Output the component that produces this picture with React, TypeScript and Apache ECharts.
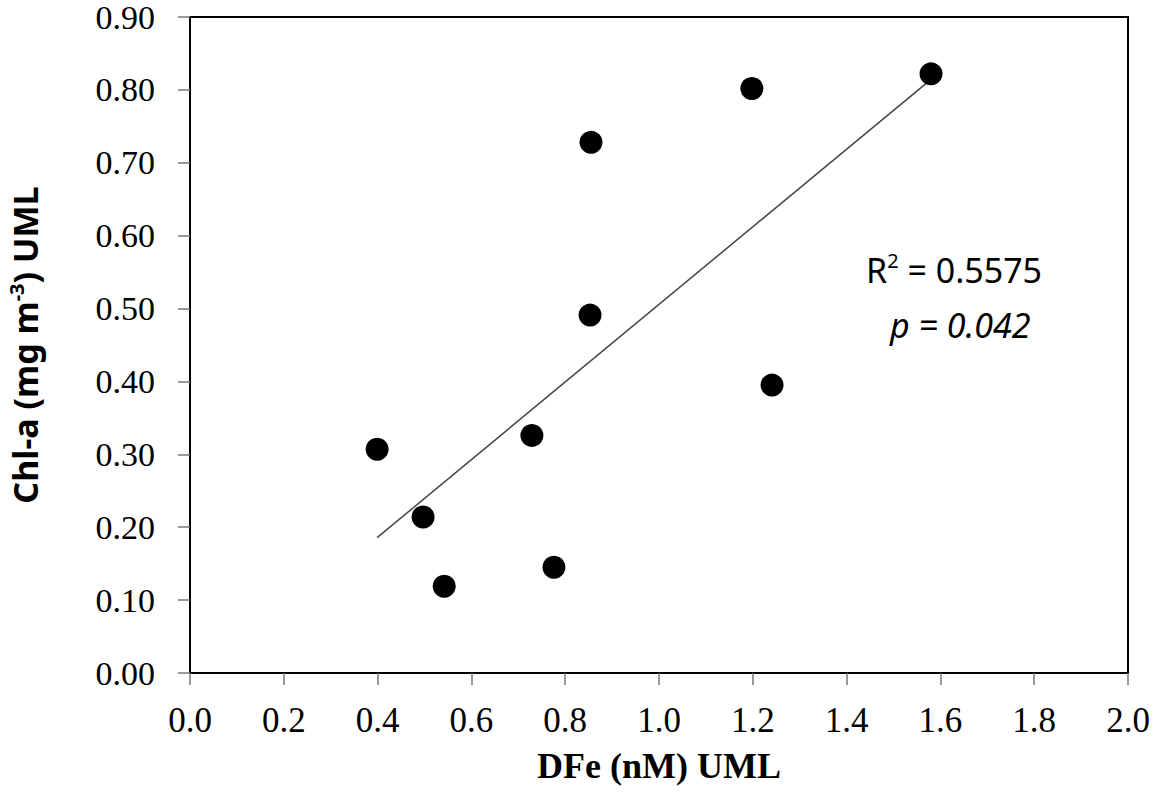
import React, { useEffect, useRef } from "react";
import * as echarts from "echarts";

const dfe = [0.399, 0.497, 0.542, 0.729, 0.776, 0.853, 0.855, 1.198, 1.241, 1.58];
const chla = [0.307, 0.214, 0.119, 0.326, 0.145, 0.491, 0.728, 0.802, 0.395, 0.822];
const r2Label = "0.5575";
const pLabel = "0.042";

function regression(xs: number[], ys: number[]) {
  const n = xs.length;
  const mx = xs.reduce((a, b) => a + b, 0) / n;
  const my = ys.reduce((a, b) => a + b, 0) / n;
  let sxy = 0;
  let sxx = 0;
  for (let i = 0; i < n; i++) {
    sxy += (xs[i] - mx) * (ys[i] - my);
    sxx += (xs[i] - mx) * (xs[i] - mx);
  }
  const slope = sxy / sxx;
  return { slope, intercept: my - slope * mx };
}

export default function App() {
  const ref = useRef<HTMLDivElement>(null);
  useEffect(() => {
    if (!ref.current) return;
    const chart = echarts.init(ref.current, null, { renderer: "svg" });
    const { slope, intercept } = regression(dfe, chla);
    const xmin = Math.min(...dfe);
    const xmax = Math.max(...dfe);
    const trend = [
      [xmin, intercept + slope * xmin],
      [xmax, intercept + slope * xmax],
    ];
    const serif = "'Liberation Serif', 'Times New Roman', serif";
    const sans = "'Noto Sans', 'Open Sans', sans-serif";
    chart.setOption({
      animation: false,
      backgroundColor: "#ffffff",
      grid: {
        left: 190,
        right: 30,
        top: 17,
        bottom: 130,
        show: true,
        borderColor: "#000",
        borderWidth: 2,
        containLabel: false,
        outerBoundsMode: "none",
      },
      xAxis: {
        type: "value",
        min: 0,
        max: 2,
        interval: 0.2,
        name: "DFe (nM) UML",
        nameLocation: "middle",
        nameGap: 75,
        nameTextStyle: {
          fontFamily: serif,
          fontWeight: "bold",
          fontSize: 36,
          color: "#000",
        },
        axisLine: { show: true, lineStyle: { color: "#000", width: 2 } },
        axisTick: { show: true, inside: false, length: 12, lineStyle: { color: "#777", width: 1.5 } },
        splitLine: { show: false },
        axisLabel: {
          formatter: (v: number) => v.toFixed(1),
          fontFamily: serif,
          fontSize: 35,
          color: "#000",
          margin: 30,
        },
      },
      yAxis: {
        type: "value",
        min: 0,
        max: 0.9,
        interval: 0.1,
        name: "Chl-a (mg m{sup|-3}) UML",
        nameLocation: "middle",
        nameGap: 146,
        nameTextStyle: {
          fontFamily: sans,
          fontWeight: "bold",
          fontSize: 34,
          color: "#000",
          lineHeight: 38,
          rich: {
            sup: {
              fontFamily: sans,
              fontWeight: "bold",
              fontSize: 20,
              color: "#000",
              lineHeight: 22,
              verticalAlign: "top",
            },
          },
        },
        axisLine: { show: true, lineStyle: { color: "#000", width: 2 } },
        axisTick: { show: true, inside: false, length: 12, lineStyle: { color: "#777", width: 1.5 } },
        splitLine: { show: false },
        axisLabel: {
          formatter: (v: number) => v.toFixed(2),
          fontFamily: serif,
          fontSize: 34,
          lineHeight: 30,
          color: "#000",
          margin: 35,
        },
      },
      graphic: [
        {
          type: "text",
          left: 866,
          top: 250,
          style: {
            text: "R{sup|2} = " + r2Label,
            fontFamily: sans,
            fontSize: 34,
            fill: "#000",
            lineHeight: 40,
            rich: {
              sup: { fontFamily: sans, fontSize: 20, fill: "#000", lineHeight: 22, verticalAlign: "top" },
            },
          },
        },
        {
          type: "text",
          left: 890,
          top: 308,
          style: {
            text: "p = " + pLabel,
            fontFamily: sans,
            fontStyle: "italic",
            fontSize: 34,
            fill: "#000",
          },
        },
      ],
      series: [
        {
          type: "line",
          data: trend,
          showSymbol: false,
          symbol: "none",
          lineStyle: { color: "#444", width: 1.5 },
          z: 1,
        },
        {
          type: "scatter",
          data: dfe.map((x, i) => [x, chla[i]]),
          symbol: "circle",
          symbolSize: 23,
          itemStyle: { color: "#000", opacity: 1 },
          z: 2,
        },
      ],
    });
    return () => chart.dispose();
  }, []);
  return (
    <div
      ref={ref}
      style={{ position: "absolute", left: 0, top: 0, width: 1158, height: 803 }}
    />
  );
}
